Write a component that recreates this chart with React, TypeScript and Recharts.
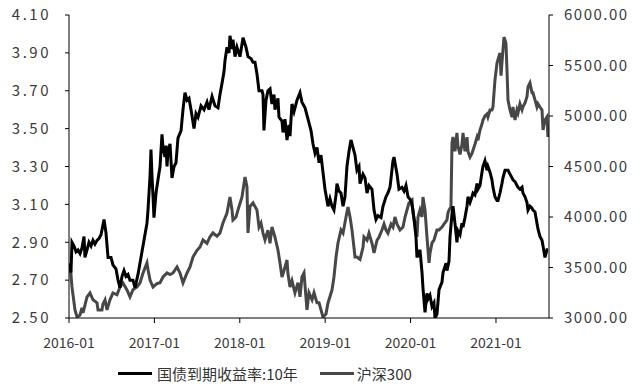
import React from "react";
import { LineChart, Line, XAxis, YAxis, Legend } from "recharts";

const yieldDates = [
  2016.012, 2016.023, 2016.035, 2016.059, 2016.082, 2016.105, 2016.129, 2016.152, 2016.176, 2016.187,
  2016.211, 2016.234, 2016.258, 2016.281, 2016.304, 2016.328, 2016.351, 2016.375, 2016.41, 2016.433,
  2016.457, 2016.492, 2016.515, 2016.55, 2016.574, 2016.597, 2016.621, 2016.644, 2016.667, 2016.691,
  2016.714, 2016.749, 2016.773, 2016.808, 2016.843, 2016.878, 2016.913, 2016.925, 2016.949, 2016.96,
  2016.972, 2016.984, 2016.995, 2017.019, 2017.042, 2017.066, 2017.089, 2017.101, 2017.124, 2017.136,
  2017.148, 2017.159, 2017.183, 2017.206, 2017.23, 2017.253, 2017.276, 2017.312, 2017.335, 2017.358,
  2017.382, 2017.405, 2017.429, 2017.464, 2017.487, 2017.511, 2017.546, 2017.581, 2017.616, 2017.639,
  2017.675, 2017.71, 2017.745, 2017.768, 2017.792, 2017.815, 2017.827, 2017.85, 2017.874, 2017.885,
  2017.909, 2017.92, 2017.944, 2017.967, 2018.002, 2018.038, 2018.073, 2018.096, 2018.131, 2018.155,
  2018.178, 2018.201, 2018.225, 2018.26, 2018.272, 2018.283, 2018.307, 2018.33, 2018.354, 2018.377,
  2018.401, 2018.412, 2018.447, 2018.459, 2018.494, 2018.506, 2018.529, 2018.553, 2018.576, 2018.588,
  2018.611, 2018.635, 2018.67, 2018.705, 2018.728, 2018.764, 2018.799, 2018.834, 2018.857, 2018.881,
  2018.904, 2018.928, 2018.951, 2018.974, 2018.998, 2019.033, 2019.056, 2019.08, 2019.103, 2019.127,
  2019.138, 2019.162, 2019.185, 2019.209, 2019.232, 2019.255, 2019.279, 2019.302, 2019.326, 2019.349,
  2019.372, 2019.396, 2019.408, 2019.443, 2019.466, 2019.49, 2019.513, 2019.548, 2019.572, 2019.595,
  2019.618, 2019.654, 2019.677, 2019.712, 2019.735, 2019.759, 2019.794, 2019.806, 2019.841, 2019.864,
  2019.899, 2019.923, 2019.946, 2019.97, 2020.005, 2020.028, 2020.063, 2020.075, 2020.11, 2020.134,
  2020.145, 2020.169, 2020.192, 2020.204, 2020.227, 2020.251, 2020.274, 2020.286, 2020.309, 2020.333,
  2020.368, 2020.38, 2020.415, 2020.426, 2020.45, 2020.462, 2020.485, 2020.497, 2020.52, 2020.543,
  2020.555, 2020.579, 2020.602, 2020.614, 2020.637, 2020.661, 2020.672, 2020.696, 2020.719, 2020.731,
  2020.754, 2020.778, 2020.789, 2020.813, 2020.836, 2020.848, 2020.871, 2020.895, 2020.906, 2020.93,
  2020.953, 2020.965, 2020.988, 2021.012, 2021.024, 2021.047, 2021.07, 2021.082, 2021.106, 2021.129,
  2021.141, 2021.164, 2021.188, 2021.199, 2021.223, 2021.246, 2021.258, 2021.281, 2021.305, 2021.316,
  2021.34, 2021.363, 2021.375, 2021.398, 2021.422, 2021.433, 2021.457, 2021.48, 2021.492, 2021.515,
  2021.539, 2021.551, 2021.574, 2021.597, 2021.609,
];

const yieldValues = [
  2.79, 2.74, 2.9, 2.88, 2.85, 2.86, 2.84, 2.87, 2.93, 2.82,
  2.86, 2.9, 2.88, 2.91, 2.89, 2.91, 2.92, 2.94, 3.02, 2.95,
  2.82, 2.82, 2.78, 2.76, 2.7, 2.66, 2.72, 2.75, 2.72, 2.73,
  2.7, 2.7, 2.66, 2.73, 2.82, 2.91, 3.0, 3.07, 3.25, 3.39,
  3.25, 3.14, 3.03, 3.16, 3.23, 3.3, 3.47, 3.4, 3.35, 3.41,
  3.3, 3.38, 3.42, 3.24, 3.3, 3.32, 3.45, 3.49, 3.6, 3.69,
  3.65, 3.66, 3.6, 3.5, 3.58, 3.56, 3.62, 3.6, 3.64, 3.6,
  3.67, 3.62, 3.61, 3.68, 3.74, 3.8, 3.86, 3.93, 3.9, 3.99,
  3.92, 3.97, 3.88, 3.93, 3.88, 3.98, 3.93, 3.88, 3.87, 3.85,
  3.85, 3.79, 3.7, 3.7, 3.68, 3.49, 3.65, 3.7, 3.71, 3.63,
  3.68, 3.6, 3.66, 3.56, 3.54, 3.48, 3.55, 3.44, 3.52, 3.46,
  3.63, 3.59, 3.65, 3.69, 3.64, 3.61, 3.55, 3.49, 3.42, 3.37,
  3.4, 3.32, 3.36, 3.27, 3.18, 3.09, 3.13, 3.09, 3.07, 3.15,
  3.21, 3.17, 3.16, 3.09, 3.14, 3.3, 3.38, 3.44, 3.4, 3.36,
  3.28, 3.3, 3.21, 3.26, 3.24, 3.16, 3.2, 3.18, 3.07, 3.02,
  3.04, 3.03, 3.09, 3.14, 3.16, 3.19, 3.33, 3.35, 3.26, 3.18,
  3.19, 3.17, 3.2, 3.14, 3.12, 3.07, 2.93, 2.82, 2.86, 2.74,
  2.66, 2.53, 2.63, 2.6, 2.62, 2.56, 2.58, 2.5, 2.52, 2.65,
  2.69, 2.74, 2.79, 2.75, 2.8, 2.93, 3.05, 3.09, 3.0, 2.9,
  2.96, 2.94, 3.0, 2.98, 3.03, 3.09, 3.14, 3.11, 3.14, 3.16,
  3.15, 3.21, 3.18, 3.2, 3.27, 3.3, 3.33, 3.28, 3.3, 3.27,
  3.23, 3.19, 3.14, 3.12, 3.12, 3.16, 3.21, 3.24, 3.28, 3.28,
  3.28, 3.26, 3.24, 3.23, 3.22, 3.2, 3.19, 3.18, 3.19, 3.16,
  3.14, 3.11, 3.07, 3.09, 3.08, 3.07, 3.06, 3.0, 2.97, 2.93,
  2.91, 2.88, 2.82, 2.86, 2.86,
];

const csiDates = [
  2016.012, 2016.035, 2016.07, 2016.094, 2016.129, 2016.152, 2016.164, 2016.211, 2016.246, 2016.281,
  2016.328, 2016.34, 2016.386, 2016.398, 2016.422, 2016.445, 2016.48, 2016.515, 2016.562, 2016.597,
  2016.632, 2016.679, 2016.714, 2016.749, 2016.796, 2016.831, 2016.867, 2016.913, 2016.925, 2016.949,
  2016.984, 2017.03, 2017.066, 2017.101, 2017.148, 2017.183, 2017.218, 2017.265, 2017.3, 2017.335,
  2017.382, 2017.417, 2017.452, 2017.499, 2017.534, 2017.569, 2017.616, 2017.651, 2017.686, 2017.733,
  2017.768, 2017.803, 2017.85, 2017.885, 2017.909, 2017.92, 2017.956, 2017.979, 2018.026, 2018.061,
  2018.084, 2018.096, 2018.12, 2018.155, 2018.201, 2018.225, 2018.248, 2018.272, 2018.295, 2018.33,
  2018.354, 2018.377, 2018.412, 2018.447, 2018.471, 2018.494, 2018.518, 2018.553, 2018.564, 2018.588,
  2018.611, 2018.646, 2018.682, 2018.705, 2018.728, 2018.752, 2018.787, 2018.81, 2018.846, 2018.869,
  2018.904, 2018.928, 2018.951, 2018.974, 2019.009, 2019.033, 2019.08, 2019.103, 2019.127, 2019.15,
  2019.185, 2019.209, 2019.244, 2019.267, 2019.291, 2019.314, 2019.337, 2019.349, 2019.372, 2019.408,
  2019.443, 2019.454, 2019.49, 2019.513, 2019.548, 2019.572, 2019.607, 2019.63, 2019.665, 2019.689,
  2019.712, 2019.735, 2019.771, 2019.794, 2019.817, 2019.841, 2019.876, 2019.911, 2019.935, 2019.958,
  2019.981, 2020.017, 2020.028, 2020.052, 2020.075, 2020.087, 2020.11, 2020.134, 2020.145, 2020.169,
  2020.192, 2020.216, 2020.227, 2020.251, 2020.274, 2020.309, 2020.333, 2020.368, 2020.391, 2020.426,
  2020.438, 2020.45, 2020.473, 2020.485, 2020.497, 2020.52, 2020.543, 2020.555, 2020.579, 2020.602,
  2020.614, 2020.637, 2020.661, 2020.672, 2020.696, 2020.719, 2020.731, 2020.754, 2020.778, 2020.789,
  2020.813, 2020.836, 2020.848, 2020.871, 2020.895, 2020.906, 2020.93, 2020.953, 2020.965, 2020.988,
  2021.012, 2021.024, 2021.047, 2021.059, 2021.07, 2021.094, 2021.117, 2021.129, 2021.141, 2021.164,
  2021.188, 2021.199, 2021.223, 2021.246, 2021.258, 2021.281, 2021.305, 2021.316, 2021.34, 2021.363,
  2021.375, 2021.398, 2021.422, 2021.433, 2021.457, 2021.48, 2021.492, 2021.515, 2021.539, 2021.551,
  2021.574, 2021.597, 2021.609,
];

const csiValues = [
  3545, 3307, 3080, 3010, 3030, 3100, 3050, 3208, 3248, 3180,
  3150, 3080, 3080, 3140, 3180, 3080, 3180, 3248, 3230, 3307,
  3347, 3277, 3208, 3280, 3307, 3347, 3446, 3545, 3480, 3376,
  3307, 3340, 3350, 3406, 3446, 3430, 3446, 3505, 3446, 3347,
  3446, 3505, 3604, 3670, 3703, 3772, 3740, 3805, 3842, 3810,
  3842, 3941, 4040, 4198, 4070, 3970, 4000, 4070, 4198, 4396,
  4300, 3842, 4105, 4139, 4070, 3900, 3940, 3840, 3772, 3870,
  3740, 3901, 3800, 3673, 3545, 3406, 3470, 3574, 3440, 3307,
  3370, 3248, 3350, 3210, 3406, 3446, 3080, 3250, 3180, 3250,
  3150, 3150, 3080, 3010, 3040, 3149, 3277, 3406, 3604, 3743,
  3871, 3840, 4000, 4099, 4000, 3870, 3700, 3604, 3604, 3580,
  3700, 3802, 3770, 3840, 3740, 3644, 3770, 3800, 3871, 3930,
  3871, 3840, 3930, 3900, 4000, 3930, 3871, 3900, 4000, 4069,
  4139, 4168, 4040, 3940, 3802, 4000, 4069, 4000, 4198, 4069,
  3802, 3545, 3640, 3743, 3772, 3871, 3871, 3901, 3930, 3970,
  4040, 4069, 4100, 4733, 4792, 4650, 4832, 4700, 4620, 4720,
  4832, 4650, 4790, 4650, 4594, 4630, 4660, 4720, 4790, 4760,
  4861, 4920, 4960, 5000, 5020, 4990, 5059, 5060, 5090, 5356,
  5525, 5560, 5624, 5400, 5525, 5782, 5720, 5455, 5158, 5060,
  4990, 5090, 4960, 5060, 5030, 5120, 5060, 5090, 5129, 5190,
  5287, 5327, 5230, 5230, 5160, 5089, 5120, 5089, 5060, 4861,
  4960, 4990, 4792,
];

const yearTicks = [2016, 2017, 2018, 2019, 2020, 2021];
const yieldTicks = [2.5, 2.7, 2.9, 3.1, 3.3, 3.5, 3.7, 3.9, 4.1];
const csiTicks = [3000, 3500, 4000, 4500, 5000, 5500, 6000];

const yieldName = "国债到期收益率:10年";
const csiName = "沪深300";

const yieldData = yieldDates.map((d, i) => ({ date: d, value: yieldValues[i] }));
const csiData = csiDates.map((d, i) => ({ date: d, value: csiValues[i] }));

const FONT = "'Noto Sans CJK SC', 'Noto Sans', sans-serif";
const xTickStyle = { fill: "#3a3a3a", fontSize: 14, fontFamily: FONT };
const leftTickStyle = { fill: "#3a3a3a", fontSize: 15, fontFamily: FONT, letterSpacing: 2.5 };
const rightTickStyle = { fill: "#3a3a3a", fontSize: 15, fontFamily: FONT, letterSpacing: 1.5 };

const LegendContent = () => (
  <div
    style={{
      display: "flex",
      alignItems: "center",
      height: 30,
      paddingLeft: 118,
      fontFamily: FONT,
      fontSize: 15,
      color: "#333",
    }}
  >
    <div style={{ width: 34, height: 3, background: "#000", marginRight: 5 }} />
    <span>{yieldName}</span>
    <div style={{ width: 34, height: 3, background: "#474747", marginLeft: 22, marginRight: 3 }} />
    <span>{csiName}</span>
  </div>
);

export default function App() {
  return (
    <div style={{ position: "absolute", left: 0, top: 0, width: 644, height: 388, background: "#fff" }}>
      <LineChart width={644} height={388} margin={{ top: 15, right: 0, bottom: 0, left: 0 }}>
        <XAxis
          type="number"
          dataKey="date"
          domain={[2016, 2021.621]}
          ticks={yearTicks}
          tickFormatter={(v: number) => `${v}-01`}
          height={40}
          tickSize={5}
          tickMargin={15}
          axisLine={{ stroke: "#000" }}
          tickLine={{ stroke: "#000" }}
          tick={xTickStyle}
          allowDataOverflow
        />
        <YAxis
          yAxisId="left"
          orientation="left"
          domain={[2.5, 4.1]}
          ticks={yieldTicks}
          tickFormatter={(v: number) => v.toFixed(2)}
          width={69}
          tickSize={4}
          tickMargin={14}
          axisLine={{ stroke: "#000" }}
          tickLine={{ stroke: "#000" }}
          tick={leftTickStyle}
          allowDataOverflow
        />
        <YAxis
          yAxisId="right"
          orientation="right"
          domain={[3000, 6000]}
          ticks={csiTicks}
          tickFormatter={(v: number) => v.toFixed(2)}
          width={95}
          tickSize={4}
          tickMargin={11}
          axisLine={{ stroke: "#000" }}
          tickLine={{ stroke: "#000" }}
          tick={rightTickStyle}
          allowDataOverflow
        />
        <Legend verticalAlign="bottom" height={30} content={<LegendContent />} />
        <Line
          yAxisId="right"
          data={csiData}
          dataKey="value"
          name={csiName}
          type="linear"
          stroke="#474747"
          strokeWidth={3}
          dot={false}
          isAnimationActive={false}
        />
        <Line
          yAxisId="left"
          data={yieldData}
          dataKey="value"
          name={yieldName}
          type="linear"
          stroke="#000"
          strokeWidth={3}
          dot={false}
          isAnimationActive={false}
        />
      </LineChart>
    </div>
  );
}
